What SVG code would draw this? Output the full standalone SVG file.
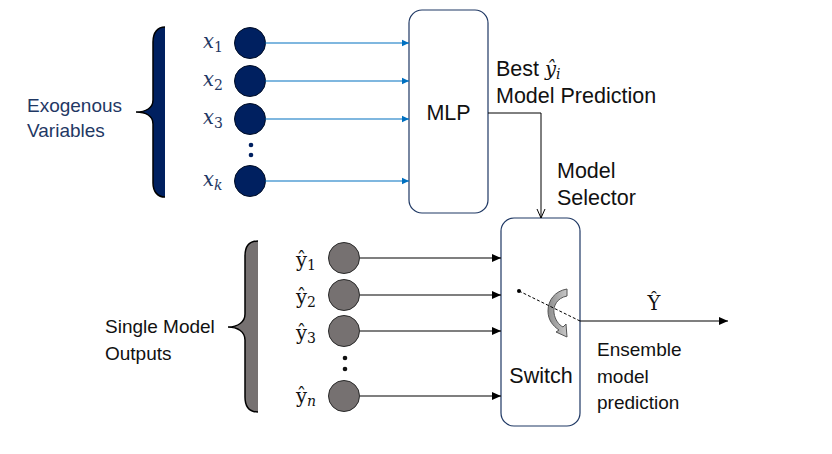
<svg xmlns="http://www.w3.org/2000/svg" width="832" height="454" viewBox="0 0 832 454">
<defs>
<marker id="ab" markerWidth="8" markerHeight="8" refX="7" refY="4" orient="auto" markerUnits="userSpaceOnUse"><path d="M0,0.8 L7,4 L0,7.2 Z" fill="#0070C0"/></marker>
<marker id="ak" markerWidth="10" markerHeight="10" refX="9" refY="5" orient="auto" markerUnits="userSpaceOnUse"><path d="M0,1 L9,5 L0,9 Z" fill="#000"/></marker>
<marker id="ao" markerWidth="10" markerHeight="10" refX="9" refY="5" orient="auto" markerUnits="userSpaceOnUse"><path d="M0,1 L9,5 L0,9" fill="none" stroke="#000" stroke-width="1"/></marker>
<linearGradient id="gg" x1="0" y1="0" x2="1" y2="0"><stop offset="0" stop-color="#8c8c8c"/><stop offset="1" stop-color="#c8c8c8"/></linearGradient>
<style>
.t{font-family:"Liberation Sans",Arial,sans-serif;font-size:19px;fill:#111}
.tb{font-family:"Liberation Sans",Arial,sans-serif;font-size:21.5px;fill:#111}
.tn{font-family:"Liberation Sans",Arial,sans-serif;font-size:19px;fill:#1F3864}
.m{font-family:"DejaVu Serif","Liberation Serif",serif;font-size:19.5px}
.mi{font-style:italic}
.sub{font-size:14px}
.box{fill:#fff;stroke:#1F3864;stroke-width:1.2}
.nc{fill:#002060;stroke:#000d26;stroke-width:1}
.gc{fill:#767171;stroke:#2a2a2a;stroke-width:1}
.blue{stroke:#0070C0;stroke-width:1.2;fill:none;marker-end:url(#ab)}
.blk{stroke:#000;stroke-width:1.2;fill:none;marker-end:url(#ak)}
</style>
</defs>
<rect width="832" height="454" fill="#fff"/>

<g id="exo-brace">
<path d="M165 27 C158 27 153 32 153 42 L153 100 C153 108 146 112 136 112 C146 112 153 116 153 124 L153 183 C153 192 158 197 165 197 Z" fill="#002060"/>
<path d="M165 27 C158 27 153 32 153 42 L153 100 C153 108 146 112 136 112 C146 112 153 116 153 124 L153 183 C153 192 158 197 165 197" fill="none" stroke="#000" stroke-width="1.5"/>
<text class="tn" x="27" y="112">Exogenous</text>
<text class="tn" x="27" y="137">Variables</text>
</g>

<g id="x-inputs">
<g id="x1"><text class="m mi" x="203" y="48" fill="#1F3864">x<tspan class="sub" font-style="normal" dy="4">1</tspan></text><circle class="nc" cx="250" cy="43" r="15.5"/></g>
<g id="x2"><text class="m mi" x="203" y="86" fill="#1F3864">x<tspan class="sub" font-style="normal" dy="4">2</tspan></text><circle class="nc" cx="250" cy="81" r="15.5"/></g>
<g id="x3"><text class="m mi" x="203" y="124" fill="#1F3864">x<tspan class="sub" font-style="normal" dy="4">3</tspan></text><circle class="nc" cx="250" cy="119" r="15.5"/></g>
<circle cx="251" cy="145" r="2.3" fill="#002060"/><circle cx="251" cy="155" r="2.3" fill="#002060"/>
<g id="xk"><text class="m mi" x="203" y="186" fill="#1F3864">x<tspan class="sub" dy="4">k</tspan></text><circle class="nc" cx="250" cy="181" r="15.5"/></g>
</g>

<g id="mlp"><rect class="box" x="409" y="10" width="79" height="203" rx="13"/><text class="tb" x="448.5" y="120" text-anchor="middle" font-size="21">MLP</text></g>

<g id="out-brace">
<path d="M258 241 C250 241 245 246 245 256 L245 314 C245 322 238 327 228 327 C238 327 245 332 245 340 L245 397 C245 407 250 412 258 412 Z" fill="#767171"/>
<path d="M258 241 C250 241 245 246 245 256 L245 314 C245 322 238 327 228 327 C238 327 245 332 245 340 L245 397 C245 407 250 412 258 412" fill="none" stroke="#000" stroke-width="1.5"/>
<text class="t" x="105" y="333">Single Model</text>
<text class="t" x="105" y="360">Outputs</text>
</g>

<g id="y-outputs">
<g id="y1"><text class="m" x="296" y="267" fill="#111">ŷ<tspan class="sub" dy="3">1</tspan></text><circle class="gc" cx="344" cy="258" r="15.5"/></g>
<g id="y2"><text class="m" x="296" y="304" fill="#111">ŷ<tspan class="sub" dy="3">2</tspan></text><circle class="gc" cx="344" cy="295" r="15.5"/></g>
<g id="y3"><text class="m" x="296" y="340" fill="#111">ŷ<tspan class="sub" dy="3">3</tspan></text><circle class="gc" cx="344" cy="331" r="15.5"/></g>
<circle cx="345" cy="358" r="2.3" fill="#111"/><circle cx="345" cy="369" r="2.3" fill="#111"/>
<g id="yn"><text class="m" x="296" y="403" fill="#111">ŷ<tspan class="sub mi" dy="3">n</tspan></text><circle class="gc" cx="344" cy="396" r="15.5"/></g>
</g>

<g id="switch"><rect class="box" x="501" y="218" width="79" height="208" rx="13"/><text class="tb" x="541" y="383" text-anchor="middle">Switch</text>
<circle cx="519" cy="291" r="2" fill="#000"/>
<path d="M567 289 L567 296 C557 298 553 306 554 313 C555 320 559 325 563 327 L566 324 L567 337 L556 332 L559 330 C553 326 548 320 548 311 C548 300 555 291 567 289 Z" fill="url(#gg)" stroke="#555" stroke-width="1"/>
<line x1="519" y1="291" x2="580" y2="321" stroke="#000" stroke-width="1" stroke-dasharray="3,2"/>
</g>

<g id="connectors">
<line class="blue" x1="265" y1="43" x2="409" y2="43"/>
<line class="blue" x1="265" y1="81" x2="409" y2="81"/>
<line class="blue" x1="265" y1="119" x2="409" y2="119"/>
<line class="blue" x1="265" y1="181" x2="409" y2="181"/>
<line class="blk" x1="360" y1="258" x2="501" y2="258"/>
<line class="blk" x1="360" y1="295" x2="501" y2="295"/>
<line class="blk" x1="360" y1="331" x2="501" y2="331"/>
<line class="blk" x1="360" y1="396" x2="501" y2="396"/>
<path d="M488 113 L541 113 L541 218" fill="none" stroke="#000" stroke-width="1" marker-end="url(#ao)"/>
<line class="blk" x1="580" y1="321" x2="728" y2="321"/>
</g>

<g id="labels">
<text class="tb" x="496" y="76">Best <tspan class="m mi" font-size="21">ŷ</tspan><tspan class="m mi sub" dy="3">i</tspan></text>
<text class="tb" x="496" y="103">Model Prediction</text>
<text class="tb" x="557" y="178">Model</text>
<text class="tb" x="557" y="205">Selector</text>
<text class="m" x="654" y="310" text-anchor="middle" fill="#111">Ŷ</text>
<text class="t" x="597" y="356">Ensemble</text>
<text class="t" x="597" y="383">model</text>
<text class="t" x="597" y="409">prediction</text>
</g>
</svg>
